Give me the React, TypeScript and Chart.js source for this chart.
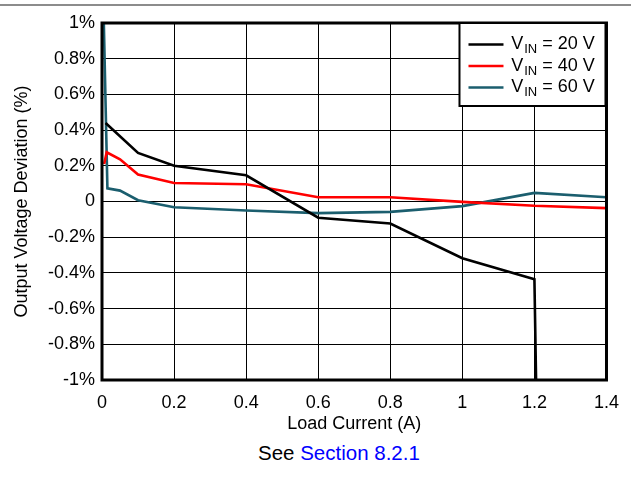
import React, { useEffect, useRef } from "react";
import { Chart, registerables } from "chart.js";

Chart.register(...registerables);

// ---- data ----
const loadCurrent20 = [0.01, 0.1, 0.2, 0.4, 0.6, 0.8, 1.0, 1.2, 1.205];
const deviation20 = [0.44, 0.272, 0.2, 0.147, -0.091, -0.123, -0.318, -0.436, -1.05];

const loadCurrent40 = [0.006, 0.013, 0.05, 0.1, 0.2, 0.4, 0.6, 0.8, 1.0, 1.2, 1.4];
const deviation40 = [0.21, 0.276, 0.236, 0.151, 0.104, 0.097, 0.024, 0.024, -0.002, -0.024, -0.037];

const loadCurrent60 = [0.004, 0.015, 0.05, 0.1, 0.2, 0.4, 0.6, 0.8, 1.0, 1.2, 1.4];
const deviation60 = [1.1, 0.074, 0.061, 0.007, -0.032, -0.05, -0.065, -0.058, -0.026, 0.048, 0.024];

const seriesVin = ["20", "40", "60"];
const seriesColors = ["#000000", "#FF0000", "#1B5E6E"];

const xTickValues = [0, 0.2, 0.4, 0.6, 0.8, 1, 1.2, 1.4];
const xTickLabels = ["0", "0.2", "0.4", "0.6", "0.8", "1", "1.2", "1.4"];
const yTickValues = [-1, -0.8, -0.6, -0.4, -0.2, 0, 0.2, 0.4, 0.6, 0.8, 1];
const yTickLabels = ["-1%", "-0.8%", "-0.6%", "-0.4%", "-0.2%", "0", "0.2%", "0.4%", "0.6%", "0.8%", "1%"];

const xTitle = "Load Current (A)";
const yTitle = "Output Voltage Deviation (%)";

const FONT = "'Liberation Sans', Arial, sans-serif";

const toPoints = (xs: number[], ys: number[]) => xs.map((x, i) => ({ x, y: ys[i] }));

const frameAndLegend = {
  id: "frameAndLegend",
  afterDatasetsDraw(chart: any) {
    const { ctx, chartArea: ca } = chart;
    ctx.save();
    // plot frame
    ctx.strokeStyle = "#000";
    ctx.lineWidth = 3;
    ctx.strokeRect(ca.left, ca.top, ca.right - ca.left, ca.bottom - ca.top);

    // legend box
    const bx = ca.right - 147;
    const by = ca.top;
    const bw = 146;
    const bh = 83;
    ctx.fillStyle = "#fff";
    ctx.fillRect(bx, by, bw, bh);
    ctx.lineWidth = 2;
    ctx.strokeStyle = "#000";
    ctx.strokeRect(bx, by, bw, bh);

    const rowY = [by + 21.5, by + 43, by + 64.5];
    seriesVin.forEach((v, i) => {
      const cy = rowY[i];
      ctx.strokeStyle = seriesColors[i];
      ctx.lineWidth = 2.5;
      ctx.beginPath();
      ctx.moveTo(bx + 9, cy);
      ctx.lineTo(bx + 44, cy);
      ctx.stroke();

      const base = cy + 4.8;
      let tx = bx + 51.7;
      ctx.fillStyle = "#000";
      ctx.textBaseline = "alphabetic";
      ctx.textAlign = "left";
      ctx.font = `18px ${FONT}`;
      ctx.fillText("V", tx, base);
      tx += ctx.measureText("V").width + 1;
      ctx.font = `13px ${FONT}`;
      ctx.fillText("IN", tx, base + 4);
      tx += ctx.measureText("IN").width;
      ctx.font = `18px ${FONT}`;
      ctx.fillText(` = ${v} V`, tx, base);
    });
    ctx.restore();
  },
};

export default function App() {
  const ref = useRef<HTMLCanvasElement | null>(null);

  useEffect(() => {
    if (!ref.current) return;
    const tickFont = { family: FONT, size: 18, lineHeight: 1.2 };
    const chart = new Chart(ref.current, {
      type: "line",
      data: {
        datasets: [
          { label: "VIN = 20 V", data: toPoints(loadCurrent20, deviation20), borderColor: seriesColors[0] },
          { label: "VIN = 40 V", data: toPoints(loadCurrent40, deviation40), borderColor: seriesColors[1] },
          { label: "VIN = 60 V", data: toPoints(loadCurrent60, deviation60), borderColor: seriesColors[2] },
        ],
      },
      options: {
        animation: false,
        responsive: false,
        devicePixelRatio: 1,
        layout: { padding: { left: 0, right: 22, top: 23, bottom: 0 } },
        elements: {
          point: { radius: 0 },
          line: { borderWidth: 2.6, tension: 0, fill: false },
        },
        plugins: { legend: { display: false }, tooltip: { enabled: false } },
        scales: {
          x: {
            type: "linear",
            min: 0,
            max: 1.4,
            afterBuildTicks: (s: any) => {
              s.ticks = xTickValues.map((value) => ({ value }));
            },
            afterFit: (s: any) => {
              s.height = 60;
            },
            ticks: {
              font: tickFont,
              color: "#000",
              padding: 12,
              maxRotation: 0,
              autoSkip: false,
              callback: (_v: any, i: number) => xTickLabels[i],
            },
            grid: { color: "#000", lineWidth: 1, drawTicks: false },
            border: { display: false },
            title: {
              display: true,
              text: xTitle,
              color: "#000",
              font: tickFont,
              padding: { top: 0, bottom: 5 },
            },
          },
          y: {
            type: "linear",
            min: -1,
            max: 1,
            afterBuildTicks: (s: any) => {
              s.ticks = yTickValues.map((value) => ({ value }));
            },
            afterFit: (s: any) => {
              s.width = 102;
            },
            ticks: {
              font: tickFont,
              color: "#000",
              padding: 7,
              autoSkip: false,
              callback: (_v: any, i: number) => yTickLabels[i],
            },
            grid: { color: "#000", lineWidth: 1, drawTicks: false },
            border: { display: false },
            title: {
              display: true,
              text: yTitle,
              color: "#000",
              font: tickFont,
              padding: { top: 11, bottom: 0 },
            },
          },
        },
      },
      plugins: [frameAndLegend],
    } as any);
    return () => chart.destroy();
  }, []);

  return (
    <div
      style={{
        position: "fixed",
        left: 0,
        top: 0,
        width: 631,
        height: 485,
        background: "#fff",
        fontFamily: FONT,
      }}
    >
      <div style={{ position: "absolute", left: 0, top: 4, width: 631, height: 2, background: "#8c8c8c" }} />
      <canvas ref={ref} width={631} height={440} style={{ position: "absolute", left: 0, top: 0 }} />
      <div
        style={{
          position: "absolute",
          left: 258,
          top: 443.3,
          fontSize: 20.5,
          lineHeight: "20.5px",
          whiteSpace: "nowrap",
          color: "#000",
        }}
      >
        See <span style={{ color: "#0000FF" }}>Section 8.2.1</span>
      </div>
    </div>
  );
}
